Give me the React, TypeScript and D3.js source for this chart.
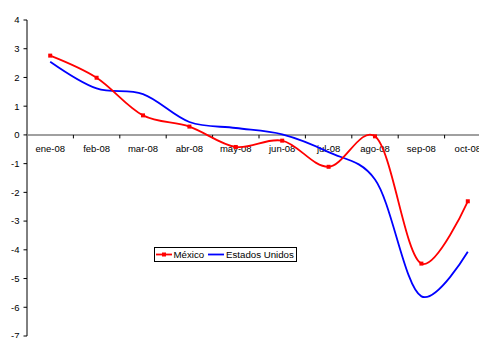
import React from "react";
import * as d3 from "d3";

const categories = ["ene-08", "feb-08", "mar-08", "abr-08", "may-08", "jun-08", "jul-08", "ago-08", "sep-08", "oct-08"];
const mexico = [2.76, 1.99, 0.68, 0.29, -0.42, -0.2, -1.11, -0.05, -4.48, -2.31];
const estadosUnidos = [2.55, 1.62, 1.42, 0.45, 0.24, 0.02, -0.6, -1.55, -5.62, -4.07];
const yTicks = [4, 3, 2, 1, 0, -1, -2, -3, -4, -5, -6, -7];
const seriesNames = ["México", "Estados Unidos"];
const seriesColors = ["#FF0000", "#0000FF"];

const W = 479;
const H = 338;
const FONT = "'Liberation Sans', Arial, sans-serif";

export default function App() {
  const x = d3.scaleBand<string>().domain(categories).range([27, 27 + 46.4 * categories.length]);
  const y = d3.scaleLinear().domain([-7, 4]).range([336, 20]);
  const cx = (c: string) => (x(c) as number) + x.bandwidth() / 2;

  const line = d3
    .line<number>()
    .x((_, i) => cx(categories[i]))
    .y((d) => y(d))
    .curve(d3.curveCatmullRom.alpha(0.2));

  const y0 = y(0);
  const boundaries = categories.map((c) => (x(c) as number) + x.bandwidth());

  return (
    <svg width={W} height={H} style={{ position: "absolute", left: 0, top: 0, background: "#fff" }} fontFamily={FONT}>
      {/* y axis */}
      <line x1={27} x2={27} y1={y(4)} y2={y(-7)} stroke="#000" strokeWidth={1} />
      {yTicks.map((t) => (
        <g key={t}>
          <line x1={23.5} x2={27} y1={y(t)} y2={y(t)} stroke="#000" strokeWidth={1} />
          <text x={19.5} y={y(t)} dy="0.35em" textAnchor="end" fontSize={9.5} fill="#000">
            {t}
          </text>
        </g>
      ))}
      {/* x axis */}
      <line x1={27} x2={x.range()[1]} y1={y0} y2={y0} stroke="#808080" strokeWidth={1.5} />
      {boundaries.map((b, i) => (
        <line key={i} x1={b} x2={b} y1={y0} y2={y0 + 3.5} stroke="#000" strokeWidth={1} />
      ))}
      {categories.map((c) => (
        <text key={c} x={cx(c)} y={152} textAnchor="middle" fontSize={9.5} fill="#000">
          {c}
        </text>
      ))}
      {/* series */}
      <path d={line(estadosUnidos) || ""} fill="none" stroke={seriesColors[1]} strokeWidth={1.8} />
      <path d={line(mexico) || ""} fill="none" stroke={seriesColors[0]} strokeWidth={1.8} />
      {mexico.map((v, i) => (
        <rect key={i} x={cx(categories[i]) - 2} y={y(v) - 2} width={4} height={4} fill={seriesColors[0]} />
      ))}
      {/* legend */}
      <g>
        <rect x={154.5} y={247.5} width={142} height={14} fill="#fff" stroke="#000" strokeWidth={1} />
        <line x1={156} x2={172} y1={254.5} y2={254.5} stroke={seriesColors[0]} strokeWidth={1.8} />
        <rect x={162} y={252.5} width={4} height={4} fill={seriesColors[0]} />
        <text x={173.5} y={258} fontSize={9.7} fill="#000">
          {seriesNames[0]}
        </text>
        <line x1={208} x2={224} y1={254.5} y2={254.5} stroke={seriesColors[1]} strokeWidth={1.8} />
        <text x={226} y={258} fontSize={9.7} fill="#000">
          {seriesNames[1]}
        </text>
      </g>
    </svg>
  );
}
